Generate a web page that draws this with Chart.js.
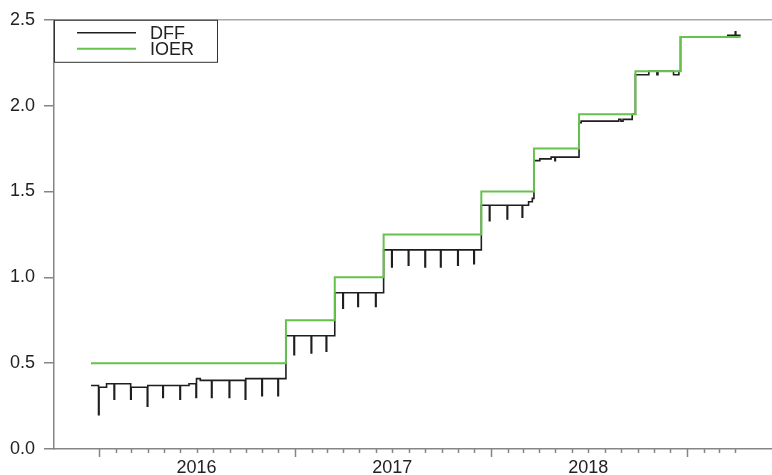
<!DOCTYPE html>
<html>
<head>
<meta charset="utf-8">
<script src="https://cdn.jsdelivr.net/npm/chart.js@4.4.1/dist/chart.umd.min.js"></script>
<style>
  body { margin: 0; background: #fff; }
  canvas { display: block; }
</style>
</head>
<body>
<canvas id="rateChart" width="772" height="475"></canvas>
<script>
// --- DATA ---
const seriesNames = ['DFF', 'IOER'];
const yearLabels = ['2016', '2017', '2018'];
const yTickValues = [0, 0.5, 1.0, 1.5, 2.0, 2.5];

// IOER: date each new level starts, last entry = end of data
const ioerDates = ['2015-12-17', '2016-12-15', '2017-03-16', '2017-06-15', '2017-12-14',
                   '2018-03-22', '2018-06-14', '2018-09-27', '2018-12-20', '2019-04-11'];
const ioerValues = [0.50, 0.75, 1.00, 1.25, 1.50, 1.75, 1.95, 2.20, 2.40, 2.40];

// DFF: date each new level starts (one-day month-end dips included)
const dffDates = [
  '2015-12-17', '2015-12-31', '2016-01-01', '2016-01-15', '2016-01-29', '2016-01-30',
  '2016-02-29', '2016-03-01', '2016-03-31', '2016-04-01', '2016-04-29', '2016-04-30',
  '2016-05-31', '2016-06-01', '2016-06-17', '2016-06-30', '2016-07-01', '2016-07-08',
  '2016-07-29', '2016-07-30', '2016-08-31', '2016-09-01', '2016-09-30', '2016-10-01',
  '2016-10-31', '2016-11-01', '2016-11-30', '2016-12-01', '2016-12-15', '2016-12-30',
  '2016-12-31', '2017-01-31', '2017-02-01', '2017-02-28', '2017-03-01', '2017-03-16',
  '2017-03-31', '2017-04-01', '2017-04-28', '2017-04-29', '2017-05-31', '2017-06-01',
  '2017-06-15', '2017-06-30', '2017-07-01', '2017-07-31', '2017-08-01', '2017-08-31',
  '2017-09-01', '2017-09-29', '2017-09-30', '2017-10-31', '2017-11-01', '2017-11-30',
  '2017-12-01', '2017-12-14', '2017-12-29', '2017-12-30', '2018-01-31', '2018-02-01',
  '2018-02-28', '2018-03-01', '2018-03-12', '2018-03-19', '2018-03-22', '2018-04-02',
  '2018-04-23', '2018-04-30', '2018-05-01', '2018-06-14', '2018-06-18', '2018-08-27',
  '2018-08-31', '2018-09-04', '2018-09-21', '2018-09-27', '2018-10-22', '2018-11-06',
  '2018-11-08', '2018-12-07', '2018-12-17', '2018-12-20', '2019-03-18', '2019-04-01',
  '2019-04-02', '2019-04-11'
];
const dffValues = [
  0.37, 0.20, 0.36, 0.38, 0.29, 0.38,
  0.29, 0.36, 0.25, 0.37, 0.30, 0.37,
  0.29, 0.37, 0.38, 0.30, 0.41, 0.40,
  0.30, 0.40, 0.30, 0.40, 0.29, 0.41,
  0.31, 0.41, 0.31, 0.41, 0.66, 0.55,
  0.66, 0.56, 0.66, 0.57, 0.66, 0.91,
  0.82, 0.91, 0.83, 0.91, 0.83, 0.91,
  1.16, 1.06, 1.16, 1.07, 1.16, 1.06,
  1.16, 1.06, 1.16, 1.07, 1.16, 1.08,
  1.16, 1.42, 1.33, 1.42, 1.34, 1.42,
  1.35, 1.42, 1.44, 1.46, 1.68, 1.69,
  1.70, 1.68, 1.70, 1.90, 1.91, 1.92,
  1.91, 1.92, 1.95, 2.18, 2.20, 2.18,
  2.20, 2.18, 2.20, 2.40, 2.41, 2.43,
  2.41, 2.41
];

// --- HELPERS ---
function decYear(s) {
    const [y, m, d] = s.split('-').map(Number);
    const start = Date.UTC(y, 0, 1);
    const end = Date.UTC(y + 1, 0, 1);
    return y + (Date.UTC(y, m - 1, d) - start) / (end - start);
}

function toPoints(dates, values) {
    return dates.map((d, i) => ({ x: decYear(d), y: values[i] }));
}

// monthly ticks Jan 2016 .. Apr 2019, year label on the July tick
function monthTicks() {
    const ticks = [];
    for (let y = 2016; y <= 2019; y++) {
        for (let m = 1; m <= 12; m++) {
            if (y === 2019 && m > 4) break;
            const key = `${y}-${String(m).padStart(2, '0')}-01`;
            ticks.push({
                value: decYear(key),
                isJan: m === 1,
                text: (m === 7 && yearLabels.includes(String(y))) ? String(y) : ''
            });
        }
    }
    return ticks;
}

const AXIS_GRAY = '#858585';
const FONT = '"Liberation Sans", Arial, Helvetica, sans-serif';

// --- PLUGINS: x tick marks, top rule, inset legend ---
const framePlugin = {
    id: 'frame',
    afterDraw(chart) {
        const { ctx, chartArea } = chart;
        const xs = chart.scales.x;
        ctx.save();
        ctx.strokeStyle = AXIS_GRAY;
        ctx.lineWidth = 1.5;
        xs.ticks.forEach(t => {
            const px = Math.round(xs.getPixelForValue(t.value)) + 0.5;
            ctx.beginPath();
            ctx.moveTo(px, chartArea.bottom);
            ctx.lineTo(px, chartArea.bottom + (t.isJan ? 8 : 4));
            ctx.stroke();
        });
        // top rule
        ctx.strokeStyle = '#a8a8a8';
        ctx.beginPath();
        ctx.moveTo(chartArea.left, chartArea.top);
        ctx.lineTo(chartArea.right, chartArea.top);
        ctx.stroke();

        // legend box
        const bx = chartArea.left + 0.5, by = chartArea.top + 0.5, bw = 163, bh = 42;
        ctx.fillStyle = '#fff';
        ctx.fillRect(bx, by, bw, bh);
        ctx.strokeStyle = '#333';
        ctx.lineWidth = 1;
        ctx.strokeRect(bx, by, bw, bh);
        ctx.font = `18px ${FONT}`;
        ctx.textBaseline = 'middle';
        ctx.textAlign = 'left';
        seriesNames.forEach((name, i) => {
            const ds = chart.data.datasets.find(d => d.label === name);
            const ly = chartArea.top + 13 + i * 16;
            ctx.strokeStyle = ds.borderColor;
            ctx.lineWidth = ds.borderWidth;
            ctx.beginPath();
            ctx.moveTo(chartArea.left + 23, ly);
            ctx.lineTo(chartArea.left + 82, ly);
            ctx.stroke();
            ctx.fillStyle = '#222';
            ctx.fillText(name, chartArea.left + 96, ly + 1);
        });
        ctx.restore();
    }
};

// --- CHART ---
const ctx = document.getElementById('rateChart').getContext('2d');
new Chart(ctx, {
    type: 'line',
    data: {
        datasets: [
            {
                label: 'DFF',
                data: toPoints(dffDates, dffValues),
                borderColor: '#1e1e1e',
                borderWidth: 1.6,
                stepped: true,
                pointRadius: 0,
                order: 1
            },
            {
                label: 'IOER',
                data: toPoints(ioerDates, ioerValues),
                borderColor: '#66c24c',
                borderWidth: 2,
                stepped: true,
                pointRadius: 0,
                order: 0
            }
        ]
    },
    options: {
        responsive: false,
        animation: false,
        devicePixelRatio: 1,
        layout: { padding: { top: 19, right: 0, bottom: 0, left: 0 } },
        plugins: { legend: { display: false }, tooltip: { enabled: false } },
        scales: {
            x: {
                type: 'linear',
                min: 2015.770,
                max: 2019.434,
                afterBuildTicks: axis => { axis.ticks = monthTicks(); },
                afterFit: axis => { axis.height = 26; },
                grid: { display: false, drawTicks: false },
                border: { display: true, color: AXIS_GRAY, width: 1.5 },
                ticks: {
                    autoSkip: false,
                    maxRotation: 0,
                    padding: 8,
                    color: '#222',
                    font: { family: FONT, size: 18 },
                    callback: (v, i, ticks) => ticks[i].text || ''
                }
            },
            y: {
                min: 0,
                max: 2.5,
                afterBuildTicks: axis => { axis.ticks = yTickValues.map(v => ({ value: v })); },
                afterFit: axis => { axis.width = 54; },
                grid: { drawOnChartArea: false, drawTicks: true, tickLength: 10, color: AXIS_GRAY, lineWidth: 1.5 },
                border: { display: true, color: AXIS_GRAY, width: 1.5 },
                ticks: {
                    padding: 9,
                    color: '#222',
                    font: { family: FONT, size: 18 },
                    callback: v => v.toFixed(1)
                }
            }
        }
    },
    plugins: [framePlugin]
});
</script>
</body>
</html>
